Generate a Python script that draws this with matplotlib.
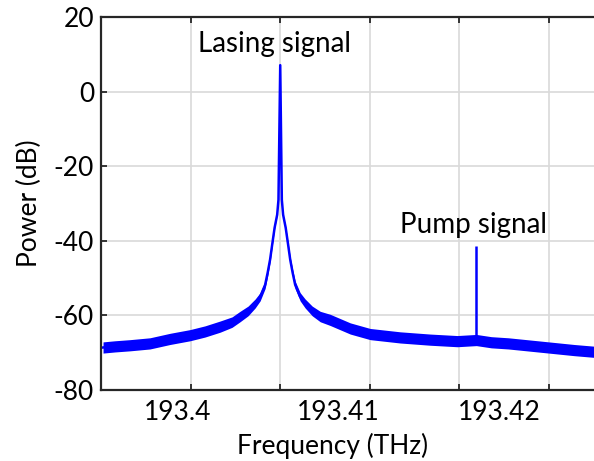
import matplotlib
matplotlib.use("Agg")
import matplotlib.pyplot as plt
import numpy as np

plt.rcParams['font.family'] = ['Lato', 'DejaVu Sans']

# spectrum (THz, dB), centre of the noisy trace
freq = [193.39533, 193.39607, 193.39701, 193.39825, 193.39950, 193.40075,
        193.40168, 193.40262, 193.40336, 193.40386, 193.40436, 193.40480,
        193.40511, 193.40542, 193.40558, 193.40573, 193.40586, 193.40601,
        193.40617, 193.40625, 193.40636, 193.40646, 193.40654, 193.40670,
        193.40685, 193.40698, 193.40713, 193.40729, 193.40760, 193.40791,
        193.40835, 193.40885, 193.40947, 193.41072, 193.41196, 193.41383,
        193.41570, 193.41738, 193.41857, 193.41950, 193.42056, 193.42262,
        193.42467, 193.42604]
power = [-68.6, -68.3, -68.0, -67.5, -66.3, -65.3,
         -64.3, -63.0, -61.8, -60.3, -58.8, -56.8,
         -55.0, -51.8, -48.5, -45.0, -41.0, -36.5,
         -33.0, -29.0, 7.1, -29.0, -33.0, -36.5,
         -41.0, -45.0, -48.5, -51.8, -55.0, -56.8,
         -58.8, -60.3, -61.2, -63.5, -65.0, -65.9,
         -66.5, -66.9, -66.6, -67.2, -67.5, -68.4,
         -69.3, -69.8]
# half thickness of the noise band (dB)
noise = [1.5, 1.5, 1.5, 1.5, 1.5, 1.5,
         1.5, 1.5, 1.4, 1.4, 1.3, 1.2,
         1.1, 1.0, 0.9, 0.7, 0.5, 0.3,
         0.1, 0.0, 0.0, 0.0, 0.1, 0.3,
         0.5, 0.7, 0.9, 1.0, 1.1, 1.2,
         1.3, 1.4, 1.5, 1.5, 1.5, 1.5,
         1.5, 1.5, 1.5, 1.5, 1.5, 1.5,
         1.5, 1.5]

# pump line
pump_freq = [193.41857]
pump_top = [-41.3]
pump_base = [-66.6]

grid_ticks = [193.40081, 193.40636, 193.41196, 193.41751, 193.42312]
label_ticks = [193.40, 193.41, 193.42]
label_text = ['193.4', '193.41', '193.42']

freq = np.array(freq)
power = np.array(power)
noise = np.array(noise)

fig = plt.figure(figsize=(5.94, 4.61), dpi=100)
ax = fig.add_axes([0.170, 0.154, 0.834, 0.809])

ax.fill_between(freq, power - noise, power + noise, color='#0000ff', lw=0)
ax.plot(freq, power, color='#0000ff', lw=1.8)
ax.vlines(pump_freq, pump_base, pump_top, color='#0000ff', lw=1.8)

ax.set_xlim(193.395202, 193.42604)
ax.set_ylim(-80, 20)
ax.set_yticks([-80, -60, -40, -20, 0, 20])
ax.set_yticklabels(['-80', '-60', '-40', '-20', '0', '20'])

ax.set_xticks(grid_ticks)
ax.set_xticklabels([])
ax.set_xticks(label_ticks, minor=True)
ax.set_xticklabels(label_text, minor=True)

ax.grid(True, which='major', color='#d9d9d9', lw=1.2)
ax.set_axisbelow(True)
ax.tick_params(which='major', direction='in', length=4, width=1.3,
               top=True, bottom=True, left=True, right=False, labelsize=19,
               color='#262626')
ax.tick_params(axis='x', which='minor', length=0, labelsize=19, pad=7)
ax.tick_params(axis='y', pad=5)

for s in ['left', 'top', 'bottom']:
    ax.spines[s].set_linewidth(1.6)
    ax.spines[s].set_color('#262626')
ax.spines['right'].set_visible(False)

ax.set_xlabel('Frequency (THz)', fontsize=19)
ax.xaxis.set_label_coords(0.467, -0.115)
ax.set_ylabel('Power (dB)', fontsize=19)
ax.yaxis.set_label_coords(-0.12, 0.5)

ax.text(193.40127, 10.7, 'Lasing signal', fontsize=20, ha='left', va='baseline')
ax.text(193.41379, -38.0, 'Pump signal', fontsize=20, ha='left', va='baseline')

fig.savefig('out.png', dpi=100)
